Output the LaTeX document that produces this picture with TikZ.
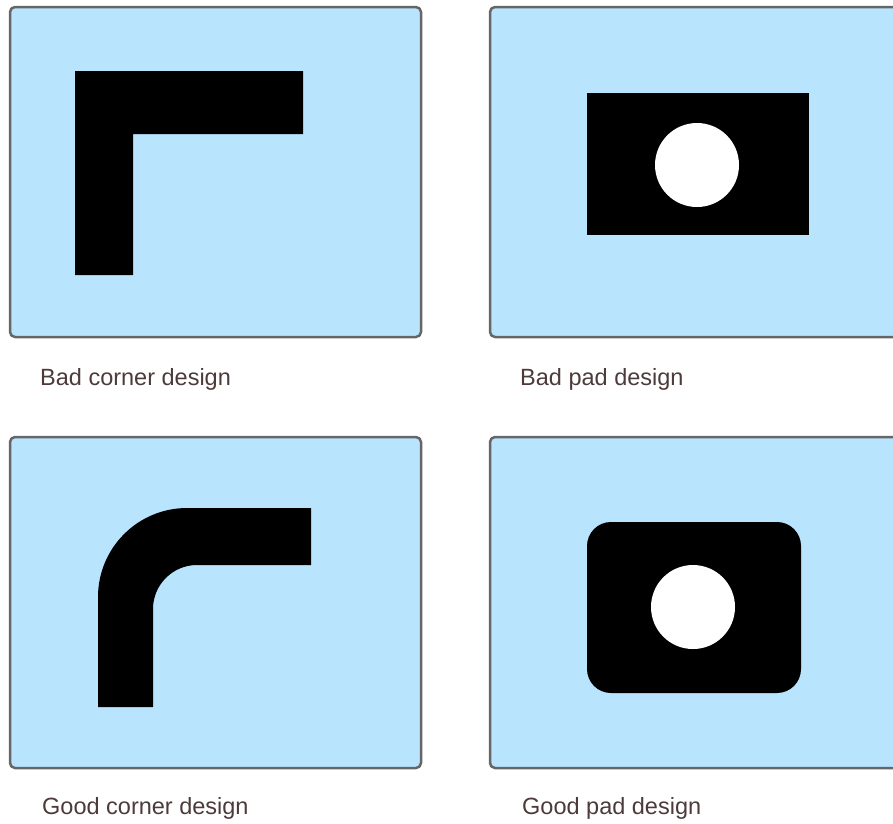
\documentclass[tikz,border=0pt]{standalone}
\usepackage{fontspec}
\setmainfont{Liberation Sans}
\definecolor{panelblue}{RGB}{184,228,254}
\definecolor{panelgray}{RGB}{102,102,102}
\definecolor{labeltext}{RGB}{77,59,59}
\tikzset{
  panel/.style={draw=panelgray, fill=panelblue, line width=2.5pt, rounded corners=5pt},
  caption/.style={anchor=west, inner sep=0pt, text=labeltext, font=\fontsize{23.5}{27}\selectfont},
}
\begin{document}
\begin{tikzpicture}[x=1pt, y=-1pt, line join=round]
		\useasboundingbox (0,0) rectangle (893,823);
		\clip (0,0) rectangle (893,823);
		% panels
		\draw[panel] (10,7) rectangle (421,337);
		\draw[panel] (490,7) rectangle (901,337);
		\draw[panel] (10,437) rectangle (421,768);
		\draw[panel] (490,437) rectangle (901,768);
		% bad corner
		\fill[black] (75,71)--(303,71)--(303,134)--(133,134)--(133,275)--(75,275)--cycle;
		% bad pad
		\fill[black] (587,93) rectangle (809,235);
		\fill[white] (697,165) circle (42);
		% good corner
		\fill[black] (98,707)--(98,597) arc (180:270:89)--(311,508)--(311,565)--(197,565) arc (270:180:44)--(153,707)--cycle;
		% good pad
		\fill[black, rounded corners=24pt] (587,522) rectangle (801,693);
		\fill[white] (693,607) circle (42);
		% captions
		\node[caption] (badcorner) at (40,379) {Bad corner design};
		\node[caption] (badpad) at (520,379) {Bad pad design};
		\node[caption] (goodcorner) at (42,808) {Good corner design};
		\node[caption] (goodpad) at (522,808) {Good pad design};
\end{tikzpicture}
\end{document}
